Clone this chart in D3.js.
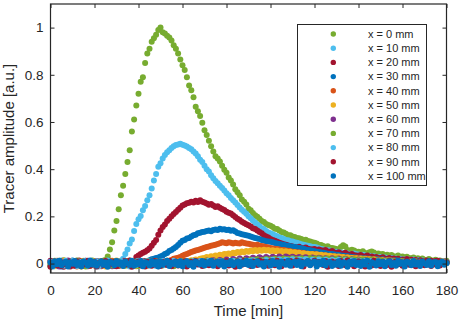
<!doctype html>
<html>

<head>
    <meta charset="utf-8">
    <title>Tracer amplitude</title>
    <style>
    body { margin: 0; background: #fff; }
    text { font-family: "Liberation Sans", Arial, Helvetica, sans-serif; fill: #262626; }
    .axis path { display: none; }
    .axis line { stroke: #262626; stroke-width: 1; }
    </style>
    <script src="https://cdn.jsdelivr.net/npm/d3@7"></script>
</head>

<body>
    <svg width="461" height="323"></svg>
    <script>
    // sampling times [min], one reading per minute
    var times = d3.range(0, 181);

    var xTicks = [0, 20, 40, 60, 80, 100, 120, 140, 160, 180];
    var yTicks = [0, 0.2, 0.4, 0.6, 0.8, 1];

    var seriesNames = ["x = 0 mm", "x = 10 mm", "x = 20 mm", "x = 30 mm", "x = 40 mm", "x = 50 mm",
        "x = 60 mm", "x = 70 mm", "x = 80 mm", "x = 90 mm", "x = 100 mm"];

    var x0 = [
        .008, -.006, .012, .001, -.010, .005, .014, -.003, .007, -.009,
        .003, .011, -.005, .009, -.012, .002, .010, -.004, .006, .013,
        -.007, .004, .009, -.002, .012, .015, .03, .06, .09, .14,
        .18, .23, .29, .33, .38, .43, .48, .56, .61, .67,
        .72, .77, .79, .85, .89, .91, .94, .955, .97, .99,
        1.0, .98, .975, .965, .958, .945, .925, .91, .89, .865,
        .84, .82, .79, .755, .735, .705, .665, .645, .625, .597,
        .565, .545, .52, .497, .475, .455, .445, .432, .415, .398,
        .385, .365, .352, .335, .315, .302, .29, .272, .262, .25,
        .232, .226, .214, .205, .198, .19, .18, .176, .168, .163,
        .16, .155, .148, .146, .14, .134, .132, .126, .12, .12,
        .115, .113, .108, .107, .104, .098, .101, .096, .093, .09,
        .088, .085, .08, .079, .074, .07, .073, .067, .066, .064,
        .062, .058, .07, .078, .072, .058, .054, .059, .055, .05,
        .05, .047, .052, .045, .043, .048, .051, .047, .04, .043,
        .038, .04, .034, .037, .033, .036, .031, .029, .034, .027,
        .03, .025, .029, .024, .021, .026, .019, .023, .017, .021,
        .016, .013, .019, .014, .011, .016, .009, .013, .01, .007, .012
    ];
    var x10 = [
        -.004, .009, .002, -.011, .006, .013, -.002, .004, -.008, .010,
        .001, -.006, .012, .005, -.009, .007, .000, .011, -.005, .003,
        .008, -.012, .004, .010, -.003, .006, -.007, .012, .002, -.004,
        .009, .005, .012, .02, .04, .06, .085, .102, .138, .168,
        .188, .202, .226, .244, .268, .29, .318, .352, .38, .41,
        .425, .445, .46, .472, .48, .49, .497, .502, .505, .508,
        .503, .5, .496, .49, .484, .475, .466, .455, .44, .43,
        .415, .4, .39, .374, .362, .35, .34, .33, .32, .31,
        .298, .29, .278, .268, .259, .248, .238, .228, .22, .211,
        .2, .192, .183, .174, .166, .158, .15, .145, .138, .132,
        .128, .124, .12, .116, .11, .108, .104, .1, .099, .095,
        .093, .09, .088, .085, .082, .08, .078, .075, .073, .07,
        .07, .068, .065, .062, .06, .058, .056, .055, .052, .05,
        .05, .048, .047, .044, .046, .043, .041, .04, .043, .039,
        .038, .035, .037, .034, .032, .033, .029, .031, .028, .026,
        .028, .024, .026, .023, .021, .024, .019, .021, .017, .02,
        .018, .015, .019, .014, .013, .017, .011, .015, .01, .013,
        .01, .012, .008, .011, .007, .01, .006, .01, .005, .009, .008
    ];
    var x20 = [
        .012, .003, -.007, .010, -.002, .008, -.013, .005, .011, -.004,
        .007, -.009, .002, .013, -.006, .009, .004, -.011, .006, .001,
        -.008, .011, .005, -.003, .009, -.010, .003, .012, -.005, .007,
        .002, -.009, .010, .004, -.006, .008, .013, -.002, .006, .028,
        .034, .04, .046, .05, .056, .064, .075, .088, .1, .122,
        .14, .155, .166, .18, .19, .2, .21, .219, .228, .236,
        .246, .25, .256, .258, .262, .259, .266, .261, .268, .262,
        .259, .255, .249, .252, .246, .24, .243, .236, .231, .227,
        .22, .215, .212, .205, .197, .19, .185, .177, .172, .167,
        .162, .157, .15, .146, .14, .134, .128, .12, .115, .11,
        .104, .1, .097, .092, .088, .085, .082, .08, .077, .074,
        .072, .07, .067, .071, .066, .064, .068, .063, .061, .06,
        .062, .057, .06, .056, .054, .058, .051, .05, .053, .047,
        .045, .048, .043, .041, .046, .039, .037, .041, .035, .034,
        .033, .036, .031, .029, .034, .027, .03, .025, .028, .024,
        .023, .027, .021, .019, .024, .018, .021, .017, .02, .015,
        .017, .014, .019, .012, .016, .011, .015, .009, .014, .01,
        .01, .013, .007, .012, .008, .011, .006, .01, .007, .009, .006
    ];
    var x30 = [
        -.009, .004, .011, -.003, .007, -.012, .002, .009, -.006, .005,
        .013, -.004, .008, -.010, .003, .006, -.008, .011, .000, -.005,
        .009, .002, -.011, .007, .004, -.007, .012, -.002, .006, -.010,
        .004, .010, -.005, .008, -.003, .011, -.008, .005, .002, .009,
        -.004, .012, .006, -.007, .010, .014, .018, .02, .024, .026,
        .03, .034, .04, .045, .053, .058, .064, .07, .079, .088,
        .097, .1, .106, .108, .115, .12, .122, .128, .131, .134,
        .135, .138, .14, .137, .142, .144, .142, .147, .144, .145,
        .142, .143, .139, .141, .136, .13, .127, .124, .122, .12,
        .118, .115, .112, .108, .106, .104, .1, .098, .095, .094,
        .092, .09, .087, .085, .083, .081, .08, .077, .075, .073,
        .071, .07, .068, .066, .065, .063, .06, .058, .056, .054,
        .052, .05, .049, .047, .046, .044, .042, .041, .04, .038,
        .037, .036, .034, .033, .032, .031, .03, .028, .027, .026,
        .025, .024, .022, .023, .02, .021, .019, .018, .02, .017,
        .016, .018, .015, .014, .016, .013, .012, .014, .011, .013,
        .01, .012, .009, .011, .008, .01, .007, .009, .008, .006,
        .008, .006, .009, .005, .007, .006, .008, .004, .006, .005, .007
    ];
    var x40 = [
        .006, -.010, .003, .012, -.005, .001, .009, -.008, .004, .011,
        -.003, .007, -.012, .005, .010, -.006, .002, .008, -.009, .004,
        .011, -.004, .006, -.011, .003, .009, -.007, .001, .012, -.002,
        .005, -.010, .008, .003, -.006, .010, -.003, .007, -.009, .004,
        .009, -.005, .002, .011, -.008, .006, .001, -.004, .010, .003,
        -.007, .008, .005, .012, .010, .015, .02, .022, .025, .028,
        .033, .037, .041, .045, .049, .052, .055, .058, .061, .064,
        .067, .07, .072, .075, .078, .08, .083, .086, .09, .088,
        .086, .09, .088, .085, .088, .086, .085, .09, .087, .085,
        .084, .082, .08, .078, .08, .076, .074, .072, .07, .068,
        .066, .064, .063, .062, .06, .058, .057, .055, .054, .052,
        .05, .049, .048, .047, .046, .045, .043, .042, .041, .04,
        .039, .038, .037, .036, .035, .034, .033, .032, .031, .03,
        .03, .028, .029, .027, .026, .027, .025, .024, .025, .022,
        .022, .02, .021, .019, .02, .018, .017, .019, .016, .017,
        .015, .016, .014, .013, .015, .012, .013, .011, .012, .01,
        .011, .009, .01, .008, .01, .007, .009, .006, .008, .007,
        .006, .008, .005, .007, .004, .006, .005, .007, .004, .005, .006
    ];
    var x50 = [
        -.002, .008, -.011, .004, .010, -.006, .013, .001, -.008, .006,
        .009, -.004, .003, -.010, .007, .012, -.002, .005, -.009, .011,
        .000, .006, -.007, .010, .004, -.012, .008, .002, -.005, .009,
        .013, -.003, .006, -.009, .011, .001, -.006, .008, .004, -.011,
        .007, .002, -.004, .010, -.008, .005, .012, -.001, .006, -.007,
        .009, .003, -.005, .011, .000, .007, -.009, .004, .010, -.003,
        .006, .012, .002, .01, .014, .012, .017, .015, .02, .022,
        .024, .028, .025, .031, .029, .034, .031, .037, .035, .04,
        .039, .043, .041, .046, .044, .049, .046, .051, .048, .053,
        .05, .055, .052, .057, .053, .058, .054, .059, .055, .057,
        .053, .056, .052, .055, .05, .053, .049, .052, .047, .05,
        .045, .048, .043, .046, .041, .044, .04, .042, .038, .04,
        .036, .039, .034, .037, .032, .035, .03, .033, .029, .031,
        .027, .03, .025, .028, .023, .026, .022, .024, .02, .023,
        .019, .021, .017, .02, .016, .018, .014, .017, .013, .015,
        .012, .014, .011, .013, .009, .012, .008, .011, .007, .01,
        .006, .009, .005, .008, .004, .008, .003, .007, .004, .006,
        .002, .006, .001, .005, .003, .005, .001, .004, .002, .004, .001
    ];
    var x60 = [
        .010, -.005, .007, .002, -.012, .009, .004, -.007, .013, -.001,
        .005, .011, -.008, .003, .008, -.004, .012, -.010, .006, .001,
        -.006, .009, .003, -.009, .011, .005, -.002, .008, -.011, .004,
        .010, -.007, .002, .012, -.004, .006, -.010, .009, .003, -.005,
        .008, .001, -.009, .011, .004, -.006, .010, -.002, .007, -.011,
        .005, .012, -.003, .008, .000, -.008, .011, .004, -.006, .009,
        .002, -.004, .010, .006, -.002, .012, .005, .000, .011, .007,
        .003, .013, .008, .004, .014, .009, .006, .015, .011, .008,
        .017, .012, .01, .019, .014, .012, .021, .016, .014, .023,
        .018, .016, .025, .02, .018, .027, .021, .019, .028, .023,
        .02, .029, .024, .021, .03, .025, .022, .03, .026, .022,
        .029, .025, .021, .028, .024, .02, .027, .023, .019, .026,
        .022, .018, .025, .021, .017, .023, .019, .016, .022, .018,
        .015, .021, .017, .014, .02, .016, .013, .018, .015, .012,
        .017, .013, .011, .016, .012, .01, .015, .011, .009, .014,
        .01, .008, .013, .009, .007, .012, .008, .006, .011, .007,
        .005, .01, .006, .004, .009, .005, .003, .008, .004, .002,
        .007, .003, .001, .006, .002, .000, .005, .001, -.001, .004, .002
    ];
    var x70 = [
        -.011, .003, .009, -.006, .012, .000, -.004, .010, .005, -.009,
        .008, -.002, .013, -.007, .004, .009, -.012, .006, .001, .011,
        -.005, .007, -.010, .003, .012, -.003, .008, .002, -.008, .010,
        .004, -.006, .011, .000, -.009, .007, .012, -.004, .005, .009,
        -.010, .003, .008, -.005, .011, .001, -.007, .010, .004, -.003,
        .009, -.008, .006, .012, -.002, .005, -.011, .008, .003, -.006,
        .010, .002, -.009, .007, .011, -.004, .006, -.001, .009, .004,
        -.007, .012, .005, -.002, .008, .010, -.005, .006, .011, .001,
        .009, -.003, .012, .007, .002, .013, .005, .010, .015, .004,
        .012, .016, .008, .014, .018, .009, .015, .012, .019, .011,
        .017, .014, .02, .012, .018, .015, .021, .013, .019, .016,
        .022, .014, .019, .017, .023, .015, .02, .018, .024, .016,
        .021, .017, .022, .015, .019, .016, .021, .014, .018, .015,
        .02, .013, .017, .014, .019, .012, .016, .013, .018, .011,
        .015, .012, .017, .01, .014, .011, .016, .009, .013, .01,
        .014, .008, .012, .009, .013, .007, .011, .008, .012, .006,
        .01, .007, .011, .005, .009, .006, .01, .004, .008, .005,
        .009, .003, .007, .004, .008, .002, .006, .003, .007, .001, .005
    ];
    var x80 = [
        .007, -.013, .004, .010, -.002, .006, -.009, .012, .001, -.006,
        .011, .003, -.010, .008, -.003, .005, .012, -.008, .002, .009,
        -.004, .010, -.011, .006, .001, -.007, .013, .004, -.002, .008,
        -.009, .005, .011, -.003, .007, .002, -.012, .009, .004, -.005,
        .012, -.001, .006, -.008, .010, .003, -.004, .008, -.010, .005,
        .001, .011, -.006, .007, .003, -.009, .012, .000, -.004, .009,
        .005, -.011, .008, .002, -.006, .011, .004, -.003, .010, -.008,
        .006, .001, .012, -.005, .009, .003, -.002, .011, .006, -.004,
        .010, .004, .001, .012, .007, -.002, .013, .005, .009, .003,
        .011, .006, .014, .008, .004, .013, .009, .006, .015, .01,
        .007, .016, .011, .008, .017, .012, .009, .016, .013, .01,
        .018, .012, .009, .017, .014, .011, .018, .013, .01, .016,
        .012, .01, .017, .013, .009, .016, .012, .008, .015, .011,
        .009, .015, .011, .008, .014, .01, .007, .013, .01, .006,
        .012, .009, .006, .011, .008, .005, .011, .007, .004, .01,
        .007, .004, .009, .006, .003, .009, .005, .002, .008, .005,
        .002, .007, .004, .001, .007, .003, .000, .006, .003, -.001,
        .005, .002, -.002, .004, .001, -.003, .004, .000, -.002, .003, .001
    ];
    var x90 = [
        -.013, .002, .008, -.007, .011, -.010, .004, -.003, .009, -.012,
        .005, -.008, .010, .001, -.011, .006, -.004, .012, -.009, .003,
        .007, -.012, .002, .009, -.006, .011, -.010, .004, -.002, .008,
        -.011, .006, .001, -.008, .010, -.004, .012, -.013, .005, .000,
        .009, -.007, .003, -.012, .008, .002, -.009, .011, -.005, .004,
        -.010, .007, .000, -.006, .012, -.011, .003, .009, -.008, .005,
        -.002, .010, -.012, .004, .007, -.009, .011, -.004, .001, -.010,
        .008, .003, -.007, .012, -.003, .006, -.011, .009, .002, -.006,
        .011, -.008, .005, .001, -.013, .010, .004, -.005, .012, -.002,
        .007, -.010, .009, .003, -.006, .013, -.004, .008, .001, -.009,
        .010, .005, -.007, .012, .002, -.011, .008, .004, -.003, .011,
        -.008, .006, .013, -.002, .009, -.012, .005, .010, -.005, .003,
        .012, -.009, .007, .001, -.006, .011, -.013, .004, .009, -.004,
        .006, -.010, .011, .002, -.007, .013, -.003, .008, -.011, .005,
        .010, -.005, .003, -.012, .009, .001, -.008, .012, -.004, .006,
        -.010, .008, .002, -.006, .011, -.013, .005, .009, -.003, .007,
        -.009, .004, .012, -.005, .001, .010, -.011, .006, -.002, .009,
        -.007, .011, .003, -.010, .008, -.004, .012, -.008, .005, -.001, .004
    ];
    var x100 = [
        .004, -.010, .009, -.003, .012, -.007, .002, .008, -.012, .006,
        -.001, .011, -.006, .005, -.011, .009, .003, -.008, .013, -.004,
        .007, -.009, .001, .010, -.005, .006, -.013, .008, .002, -.007,
        .011, -.002, .005, -.010, .009, .000, -.006, .012, -.009, .004,
        -.003, .010, -.011, .006, .001, -.008, .011, -.004, .007, -.012,
        .009, -.005, .003, .012, -.010, .005, -.002, .008, -.007, .010,
        -.011, .004, .010, -.006, .002, -.013, .009, .001, -.004, .011,
        -.008, .006, -.001, .012, -.009, .003, .008, -.005, .010, -.012,
        .005, -.003, .011, -.007, .002, .009, -.011, .006, -.002, .012,
        -.006, .008, -.010, .003, .010, -.004, .001, -.012, .007, .004,
        -.008, .011, -.002, .006, -.013, .009, .000, -.005, .012, -.009,
        .003, .008, -.006, .010, -.011, .005, -.001, .011, -.007, .002,
        .009, -.012, .006, -.003, .012, -.008, .004, .007, -.010, .001,
        -.005, .010, -.009, .005, .002, -.013, .008, -.002, .011, -.006,
        .004, -.010, .009, -.004, .012, -.014, .006, .001, -.008, .010,
        -.003, .007, -.011, .005, .010, -.006, .002, -.009, .012, -.001,
        .006, -.012, .008, .003, -.007, .011, -.004, .005, -.010, .009,
        .001, -.006, .010, -.008, .004, .007, -.011, .003, .008, -.005, .002
    ];

    var seriesValues = [x0, x10, x20, x30, x40, x50, x60, x70, x80, x90, x100];

    var palette = ["#77AC30", "#4DBEEE", "#A2142F", "#0072BD", "#D95319", "#EDB120",
        "#7E2F8E", "#77AC30", "#4DBEEE", "#A2142F", "#0072BD"];

    var svg = d3.select("svg"),
        plotL = 50.5, plotR = 446.5, plotT = 4, plotB = 273;

    var x = d3.scaleLinear().domain([0, 180]).range([plotL, plotR]);
    var y = d3.scaleLinear().domain([-0.04, 1.1]).range([plotB, plotT]);

    // points, first series at the back
    seriesValues.forEach(function(vals, i) {
        svg.append("g")
            .selectAll("circle")
            .data(vals)
            .enter().append("circle")
            .attr("cx", function(d, j) { return x(times[j]); })
            .attr("cy", function(d) { return y(d); })
            .attr("r", 3)
            .attr("fill", palette[i]);
    });

    // axes, ticks pointing inwards
    svg.append("g")
        .attr("class", "axis")
        .attr("transform", "translate(0," + plotB + ")")
        .call(d3.axisBottom(x).tickValues(xTicks).tickSize(-4).tickPadding(12).tickSizeOuter(0))
        .selectAll("text").style("font-size", "13.5px");

    svg.append("g")
        .attr("class", "axis")
        .attr("transform", "translate(0," + plotT + ")")
        .call(d3.axisTop(x).tickValues(xTicks).tickSize(-4).tickFormat("").tickSizeOuter(0));

    svg.append("g")
        .attr("class", "axis")
        .attr("transform", "translate(" + plotL + ",0)")
        .call(d3.axisLeft(y).tickValues(yTicks).tickSize(-4).tickPadding(7).tickSizeOuter(0)
            .tickFormat(d3.format("~g")))
        .selectAll("text").style("font-size", "13.5px");

    svg.append("g")
        .attr("class", "axis")
        .attr("transform", "translate(" + plotR + ",0)")
        .call(d3.axisRight(y).tickValues(yTicks).tickSize(-4).tickFormat("").tickSizeOuter(0));

    svg.append("rect")
        .attr("x", plotL)
        .attr("y", plotT)
        .attr("width", plotR - plotL)
        .attr("height", plotB - plotT)
        .attr("fill", "none")
        .attr("stroke", "#262626")
        .attr("stroke-width", 1.2);

    svg.append("text")
        .attr("x", (plotL + plotR) / 2)
        .attr("y", 316)
        .attr("text-anchor", "middle")
        .style("font-size", "15px")
        .text("Time [min]");

    svg.append("text")
        .attr("transform", "translate(14," + ((plotT + plotB) / 2) + ") rotate(-90)")
        .attr("text-anchor", "middle")
        .style("font-size", "15px")
        .text("Tracer amplitude [a.u.]");

    // legend
    var legend = svg.append("g");

    legend.append("rect")
        .attr("x", 297.5)
        .attr("y", 24.5)
        .attr("width", 129)
        .attr("height", 161)
        .attr("fill", "#fff")
        .attr("stroke", "#262626")
        .attr("stroke-width", 1);

    var row = legend.selectAll("g.row")
        .data(seriesNames)
        .enter().append("g")
        .attr("class", "row")
        .attr("transform", function(d, i) { return "translate(0," + (34 + i * 14.2) + ")"; });

    row.append("circle")
        .attr("cx", 333.3)
        .attr("cy", 0)
        .attr("r", 2.7)
        .attr("fill", function(d, i) { return palette[i]; });

    row.append("text")
        .attr("x", 368)
        .attr("y", 0)
        .attr("dy", "0.35em")
        .style("font-size", "11px")
        .text(function(d) { return d; });
    </script>
</body>

</html>
